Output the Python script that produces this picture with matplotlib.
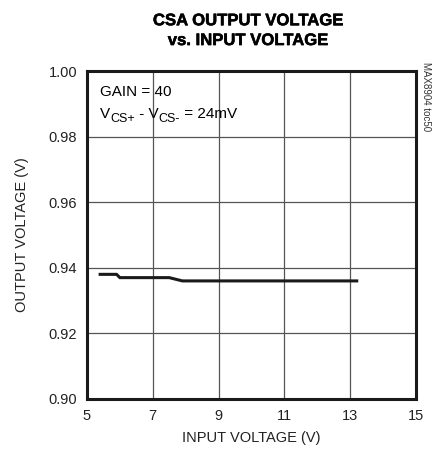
import matplotlib.pyplot as plt
import matplotlib.patheffects as pe

plt.rcParams['font.family'] = ['Liberation Sans Narrow', 'Liberation Sans', 'DejaVu Sans']

# CSA output vs input voltage
vin = [5.4, 5.9, 6.0, 7.5, 7.9, 13.2]
vout = [0.938, 0.938, 0.937, 0.937, 0.936, 0.936]

xticks = [5, 7, 9, 11, 13, 15]
yticks = [0.90, 0.92, 0.94, 0.96, 0.98, 1.00]

W, H = 436, 462
fig = plt.figure(figsize=(W / 100, H / 100), dpi=100)
ax = fig.add_axes([0.1995, 0.1364, 0.7545, 0.7099])

ax.plot(vin, vout, color='#1a1a1a', lw=2.2, solid_joinstyle='miter')

ax.set_xlim(5, 15)
ax.set_ylim(0.90, 1.00)
ax.set_xticks(xticks)
ax.set_yticks(yticks)
ax.set_xticklabels([str(t) for t in xticks])
ax.set_yticklabels(['%.2f' % t for t in yticks])
ax.tick_params(length=0, labelsize=10.5, pad=7, labelcolor='#222222')
ax.grid(True, color='#555555', lw=0.9)
for s in ax.spines.values():
    s.set_linewidth(2.2)
    s.set_color('#1a1a1a')

ax.set_xlabel('INPUT VOLTAGE (V)', fontsize=10.5, labelpad=6, color='#222222')
ax.set_ylabel('OUTPUT VOLTAGE (V)', fontsize=10.5, labelpad=14, color='#222222')

fig.text(0.568, 0.896, 'CSA OUTPUT VOLTAGE\nvs. INPUT VOLTAGE', ha='center', va='bottom',
         fontsize=12, fontweight='bold', linespacing=1.4,
         path_effects=[pe.withStroke(linewidth=0.4, foreground='black')])

fs = 11
fig.text(100 / W, 1 - 96.5 / H, 'GAIN = 40', fontsize=fs, va='baseline')

# second line: place each piece after the previous one, subscripts a bit lower
renderer = fig.canvas.get_renderer()
pieces = [('V', fs, 0), ('CS+', 9, -4), (' - V', fs, 0), ('CS-', 9, -4), (' = 24mV', fs, 0)]
x = 100
base = H - 118
for txt, size, dy in pieces:
    t = fig.text(x / W, (base + dy) / H, txt, fontsize=size, va='baseline')
    x = t.get_window_extent(renderer).x1

fig.text(0.976, 0.866, 'MAX8904 toc50', rotation=270, ha='center', va='top', fontsize=7,
         color='#333333')

fig.savefig('out.png', dpi=100)
